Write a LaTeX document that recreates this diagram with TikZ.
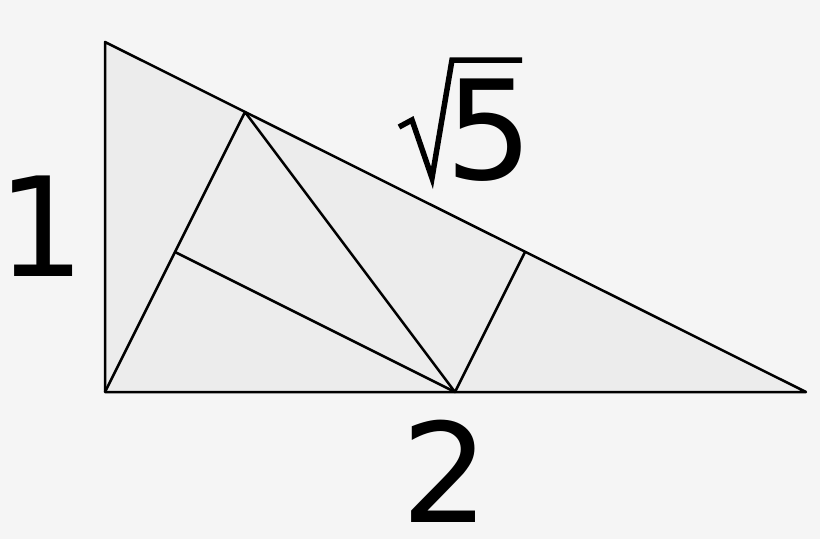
\documentclass[tikz,border=0pt]{standalone}
\usepackage{fontspec}
\setmainfont{DejaVu Sans}
\definecolor{bgc}{RGB}{245,245,245}
\definecolor{tric}{RGB}{236,236,236}
\begin{document}
\begin{tikzpicture}[x=1pt,y=-1pt,
  edge/.style={draw=black,line width=2.5pt,line join=round},
  lbl/.style={font=\fontsize{138}{138}\selectfont,inner sep=0pt,anchor=base}]
\useasboundingbox[fill=bgc] (0,0) rectangle (820,539);
\coordinate (A) at (105,392);
\coordinate (B) at (105,42);
\coordinate (C) at (806,392);
\coordinate (M) at (455,392);
\coordinate (P) at (245,112);
\coordinate (Q) at (525,252);
\coordinate (R) at (175,252);
\fill[tric] (A)--(B)--(C)--cycle;
\draw[edge] (A)--(P)--(M)--(Q);
\draw[edge] (R)--(M);
\draw[edge] (A)--(B)--(C)--cycle;
\node[lbl] (one) at (41,276) {1};
\node[lbl] (two) at (445,522) {2};
\node[lbl] (five) at (489,179) {5};
\draw[line width=5.5pt,line join=miter] (399,127)--(412,120)--(432,178)--(452,60)--(522,60);
\end{tikzpicture}
\end{document}
